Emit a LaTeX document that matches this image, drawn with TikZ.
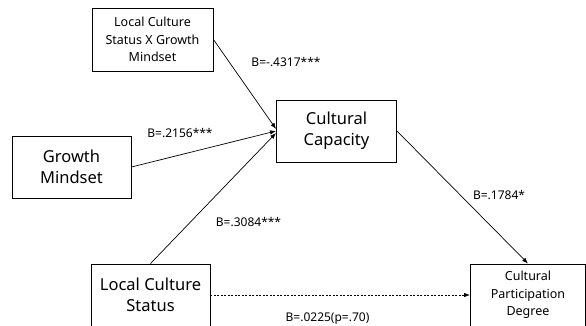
\documentclass[tikz,border=0pt]{standalone}
\usepackage{fontspec}
\setmainfont{Noto Sans}
\usetikzlibrary{arrows.meta}
\tikzset{
	varbox/.style={draw, line width=0.9pt, align=center, inner sep=0pt},
	bigvar/.style={varbox, font=\fontsize{16.5}{21}\selectfont},
	smallvar/.style={varbox, font=\fontsize{12.5}{17.5}\selectfont},
	coef/.style={font=\fontsize{12}{14}\selectfont, inner sep=0pt},
	path/.style={line width=0.7pt, -{Latex[length=6pt, width=4.5pt]}}
}

\begin{document}
\begin{tikzpicture}[x=1pt, y=-1pt]
			%%%%% START %%%%%
			
			\clip (0, 0) rectangle (586, 326);
			
			\node[smallvar, minimum width=121, minimum height=63] (inter) at (152.5, 39.5) {Local Culture\\Status X Growth\\Mindset};
			\node[bigvar, minimum width=120, minimum height=62] (capacity) at (336.5, 131) {Cultural\\Capacity};
			\node[bigvar, minimum width=119, minimum height=62] (mindset) at (71.5, 167) {Growth\\Mindset};
			\node[bigvar, minimum width=119, minimum height=62] (status) at (150.5, 295) {Local Culture\\Status};
			\node[smallvar, minimum width=115, minimum height=62] (particip) at (528, 295) {Cultural\\Participation\\Degree};
			
			\draw[path] (inter.east) -- ([yshift=2]capacity.west);
			\draw[path] (mindset.east) -- (capacity.west);
			\draw[path] (status.north) -- ([yshift=-2]capacity.west);
			\draw[path] (capacity.east) -- (particip.north);
			\draw[path, dashed, dash pattern=on 2pt off 1.5pt] (status.east) -- (particip.west);
			
			\node[coef] (b1) at (286, 62) {B=-.4317***};
			\node[coef] (b2) at (180, 133) {B=.2156***};
			\node[coef] (b3) at (248.5, 222) {B=.3084***};
			\node[coef] (b4) at (499, 195) {B=.1784*};
			\node[coef] (b5) at (327.5, 319) {B=.0225(p=.70)};
			
			%%%%% END %%%%%
		\end{tikzpicture}
\end{document}
